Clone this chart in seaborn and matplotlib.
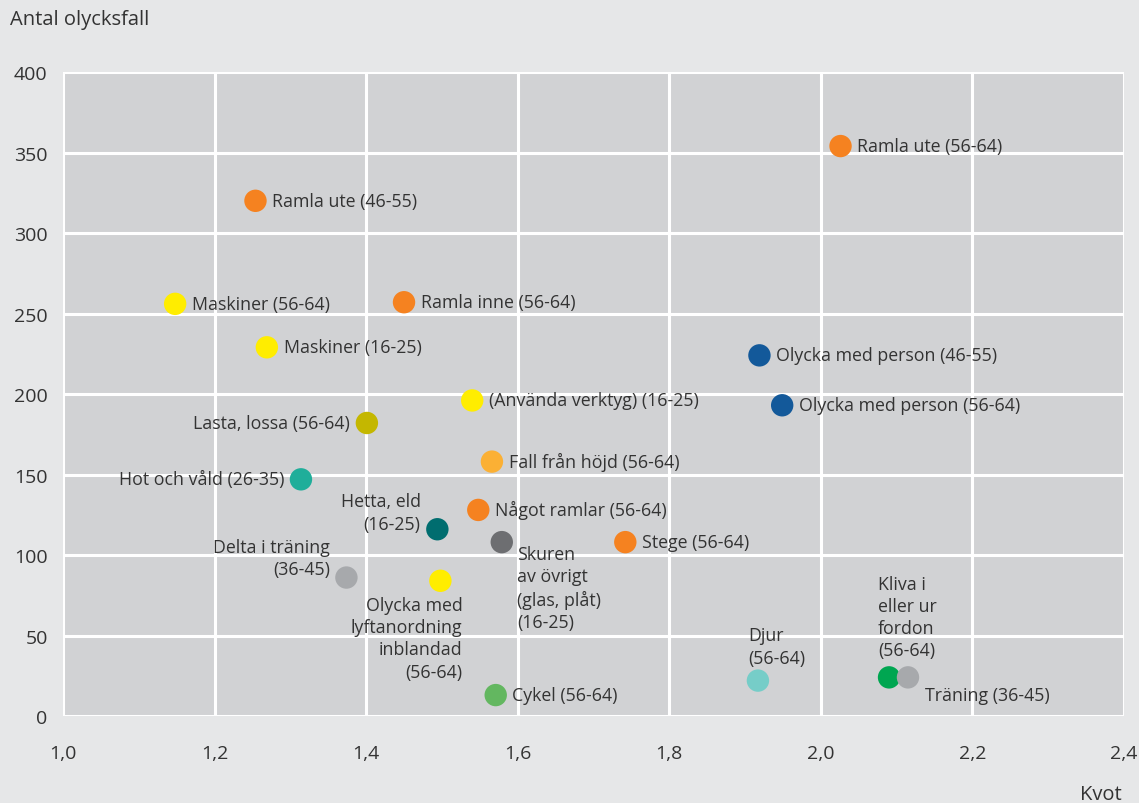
import numpy as np
import pandas as pd
import matplotlib
matplotlib.use("Agg")
import matplotlib.pyplot as plt
import seaborn as sns

# data
labels = [
    "Ramla ute (56-64)", "Ramla ute (46-55)", "Maskiner (56-64)", "Ramla inne (56-64)",
    "Maskiner (16-25)", "Olycka med person (46-55)", "Olycka med person (56-64)",
    "(Använda verktyg) (16-25)", "Lasta, lossa (56-64)", "Fall från höjd (56-64)",
    "Hot och våld (26-35)", "Något ramlar (56-64)", "Hetta, eld\n(16-25)",
    "Skuren\nav övrigt\n(glas, plåt)\n(16-25)", "Stege (56-64)", "Delta i träning\n(36-45)",
    "Olycka med\nlyftanordning\ninblandad\n(56-64)", "Cykel (56-64)", "Djur\n(56-64)",
    "Kliva i\neller ur\nfordon\n(56-64)", "Träning (36-45)",
]
kvot = [2.026, 1.254, 1.148, 1.450, 1.269, 1.919, 1.949, 1.540, 1.401, 1.566,
        1.314, 1.548, 1.494, 1.579, 1.742, 1.374, 1.498, 1.571, 1.917, 2.090, 2.115]
antal = [354, 320, 256, 257, 229, 224, 193, 196, 182, 158,
         147, 128, 116, 108, 108, 86, 84, 13, 22, 24, 24]
colors = ["#f58220", "#f58220", "#ffed00", "#f58220", "#ffed00", "#13599a", "#13599a",
          "#ffed00", "#c4b700", "#fbb034", "#1fae9a", "#f58220", "#006d6f",
          "#6d6e71", "#f58220", "#a7a9ac", "#ffed00", "#63b760", "#76cdc8",
          "#00a651", "#a7a9ac"]

xticks = [1.0, 1.2, 1.4, 1.6, 1.8, 2.0, 2.2, 2.4]
xticklabels = ["1,0", "1,2", "1,4", "1,6", "1,8", "2,0", "2,2", "2,4"]
yticks = [0, 50, 100, 150, 200, 250, 300, 350, 400]

# label placement: (dx, dy) in points, ha, va
place = {
    "Lasta, lossa (56-64)": (-12, 0, "right", "center"),
    "Hot och våld (26-35)": (-12, 0, "right", "center"),
    "Hetta, eld\n(16-25)": (-12, 12, "right", "center"),
    "Delta i träning\n(36-45)": (-12, 14, "right", "center"),
    "Skuren\nav övrigt\n(glas, plåt)\n(16-25)": (11, -2, "left", "top"),
    "Olycka med\nlyftanordning\ninblandad\n(56-64)": (16, -11, "right", "top"),
    "Djur\n(56-64)": (-7, 10, "left", "bottom"),
    "Kliva i\neller ur\nfordon\n(56-64)": (-8, 13, "left", "bottom"),
    "Träning (36-45)": (12, -13, "left", "center"),
}

df = pd.DataFrame({"label": labels, "kvot": kvot, "antal": antal})

sns.set_style("whitegrid", {
    "axes.facecolor": "#d1d2d4",
    "figure.facecolor": "#e6e7e8",
    "grid.color": "white",
    "axes.edgecolor": "#e6e7e8",
})
plt.rcParams["font.family"] = ["Open Sans", "DejaVu Sans"]
txt = "#333333"

fig = plt.figure(figsize=(11.39, 8.04), dpi=100)
ax = fig.add_axes([0.0553, 0.1082, 0.9315, 0.801])

sns.scatterplot(data=df, x="kvot", y="antal", hue="label", palette=dict(zip(labels, colors)),
                s=260, linewidth=0, legend=False, ax=ax, zorder=3)

for lab, x, y in zip(labels, kvot, antal):
    dx, dy, ha, va = place.get(lab, (12, 0, "left", "center"))
    ax.annotate(lab, (x, y), xytext=(dx, dy), textcoords="offset points",
                ha=ha, va=va, fontsize=12.8, color=txt, linespacing=1.3, zorder=4)

ax.set_xlim(1.0, 2.4)
ax.set_ylim(0, 400)
ax.set_xticks(xticks)
ax.set_xticklabels(xticklabels)
ax.set_yticks(yticks)
ax.grid(True, color="white", linewidth=2.2)
for s in ax.spines.values():
    s.set_visible(False)
ax.tick_params(axis="x", length=0, pad=20, labelsize=14, labelcolor=txt)
ax.tick_params(axis="y", length=0, pad=11, labelsize=14, labelcolor=txt)
ax.set_xlabel("")
ax.set_ylabel("")

fig.text(10 / 1139, 1 - 20 / 804, "Antal olycksfall", ha="left", va="center", fontsize=14.5, color=txt)
fig.text(1122 / 1139, 1 - 795 / 804, "Kvot", ha="right", va="center", fontsize=14.5, color=txt)

fig.savefig("out.png", dpi=100, facecolor=fig.get_facecolor())
